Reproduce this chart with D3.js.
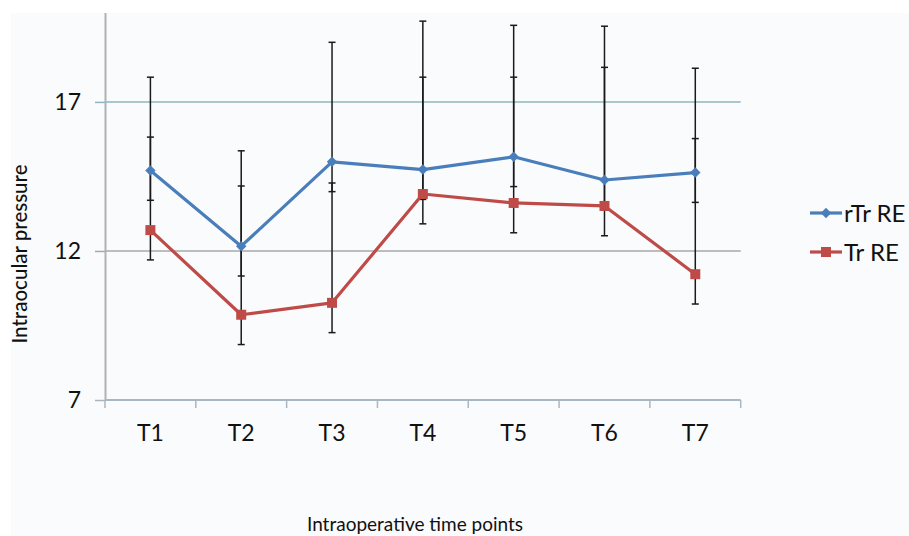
<!DOCTYPE html>
<html>
<head>
<meta charset="utf-8">
<script src="https://cdn.jsdelivr.net/npm/d3@7/dist/d3.min.js"></script>
<style>
  html, body { margin: 0; padding: 0; background: #ffffff; }
  svg { display: block; }
  text { font-family: Lato, "Open Sans", sans-serif; fill: #111; }
</style>
</head>
<body>
<svg id="chart" width="909" height="536"></svg>
<script>
// Time points on the x axis
const timePoints = ["T1", "T2", "T3", "T4", "T5", "T6", "T7"];

// Mean intraocular pressure per time point
const rTrValues = [14.70, 12.16, 14.99, 14.73, 15.16, 14.38, 14.63];
const trValues  = [12.70, 9.86, 10.26, 13.91, 13.61, 13.51, 11.22];

// Error bar extents above / below the mean
const rTrErrUp   = [3.13, 3.20, 4.01, 4.98, 4.41, 5.16, 3.50];
const rTrErrDown = [1.0, 1.0, 1.0, 1.0, 1.0, 1.0, 1.0];
const trErrUp    = [3.12, 4.32, 4.02, 3.92, 4.22, 4.65, 4.55];
const trErrDown  = [1.0, 1.0, 1.0, 1.0, 1.0, 1.0, 1.0];

// Y axis tick values
const yTicks = [7, 12, 17];

const seriesNames = ["rTr RE", "Tr RE"];
const seriesColors = ["#4a7ebb", "#be4b48"];

const series = [
  { name: seriesNames[0], color: seriesColors[0], values: rTrValues, up: rTrErrUp, down: rTrErrDown, marker: "diamond" },
  { name: seriesNames[1], color: seriesColors[1], values: trValues,  up: trErrUp,  down: trErrDown,  marker: "square" }
];

const svg = d3.select("#chart");

// chart area background
svg.append("rect")
  .attr("x", 11).attr("y", 13).attr("width", 898).attr("height", 523)
  .attr("fill", "#fafbfd");

const plot = { left: 105, right: 740.7, top: 12.5, bottom: 400 };

const x = d3.scaleBand().domain(timePoints).range([plot.left, plot.right]).padding(0);
const y = d3.scaleLinear().domain([7, 20]).range([plot.bottom, plot.top]);
const cx = d => x(d) + x.bandwidth() / 2;

// horizontal gridlines
const gridColors = { 12: "#a8a8a8", 17: "#93b3c2" };
svg.append("g")
  .selectAll("line")
  .data(yTicks.filter(t => t !== 7))
  .join("line")
  .attr("x1", plot.left).attr("x2", plot.right)
  .attr("y1", d => y(d)).attr("y2", d => y(d))
  .attr("stroke", d => gridColors[d])
  .attr("stroke-width", 1.5);

// y axis
const yAxis = svg.append("g")
  .attr("transform", `translate(${plot.left},0)`)
  .call(d3.axisLeft(y).tickValues(yTicks).tickSize(10).tickPadding(14).tickSizeOuter(0));
yAxis.select(".domain").attr("stroke", "#aeb3b8").attr("stroke-width", 2);
yAxis.selectAll(".tick line").attr("stroke", d => d === 7 ? "#aeb3b8" : gridColors[d]).attr("stroke-width", 1.5);
yAxis.selectAll(".tick text")
  .attr("font-size", 23)
  .attr("font-family", "Lato, sans-serif")
  .attr("fill", "#111");

// x axis: line plus ticks at category boundaries
const xAxis = svg.append("g");
xAxis.append("line")
  .attr("x1", plot.left).attr("x2", plot.right)
  .attr("y1", plot.bottom).attr("y2", plot.bottom)
  .attr("stroke", "#a9b7c3").attr("stroke-width", 2);
const boundaries = timePoints.map(d => x(d)).concat([x(timePoints[timePoints.length - 1]) + x.bandwidth()]);
xAxis.selectAll("line.tk")
  .data(boundaries)
  .join("line")
  .attr("class", "tk")
  .attr("x1", d => d).attr("x2", d => d)
  .attr("y1", plot.bottom).attr("y2", plot.bottom + 8)
  .attr("stroke", "#a9b7c3").attr("stroke-width", 1.5);
xAxis.selectAll("text")
  .data(timePoints)
  .join("text")
  .attr("x", d => cx(d))
  .attr("y", 441)
  .attr("text-anchor", "middle")
  .attr("font-size", 23)
  .text(d => d);

// error bars
const errG = svg.append("g");
series.forEach(s => {
  timePoints.forEach((t, i) => {
    const top = y(s.values[i] + s.up[i]);
    const bot = y(s.values[i] - s.down[i]);
    const px = cx(t);
    errG.append("line")
      .attr("x1", px).attr("x2", px).attr("y1", top).attr("y2", bot)
      .attr("stroke", "#1a1a1a").attr("stroke-width", 1.5);
    [top, bot].forEach(v => {
      errG.append("line")
        .attr("x1", px - 3.5).attr("x2", px + 3.5).attr("y1", v).attr("y2", v)
        .attr("stroke", "#1a1a1a").attr("stroke-width", 1.5);
    });
  });
});

// series lines and markers
const line = d3.line().x((d, i) => cx(timePoints[i])).y(d => y(d));
const diamond = d3.symbol().type(d3.symbolDiamond2).size(70);
const square = d3.symbol().type(d3.symbolSquare).size(100);

series.forEach(s => {
  svg.append("path")
    .datum(s.values)
    .attr("d", line)
    .attr("fill", "none")
    .attr("stroke", s.color)
    .attr("stroke-width", 3.2)
    .attr("stroke-linejoin", "round");
  svg.append("g")
    .selectAll("path")
    .data(s.values)
    .join("path")
    .attr("transform", (d, i) => `translate(${cx(timePoints[i])},${y(d)})`)
    .attr("d", s.marker === "diamond" ? diamond : square)
    .attr("fill", s.color);
});

// legend
const legend = svg.append("g");
series.forEach((s, i) => {
  const ly = 213 + i * 39;
  legend.append("line")
    .attr("x1", 810).attr("x2", 842).attr("y1", ly).attr("y2", ly)
    .attr("stroke", s.color).attr("stroke-width", 3.2);
  legend.append("path")
    .attr("transform", `translate(826,${ly})`)
    .attr("d", s.marker === "diamond" ? diamond : square)
    .attr("fill", s.color);
  legend.append("text")
    .attr("x", 844).attr("y", ly + 8.5)
    .attr("font-size", 24)
    .text(s.name);
});

// axis titles
svg.append("text")
  .attr("transform", "translate(27,254) rotate(-90)")
  .attr("text-anchor", "middle")
  .attr("font-size", 20.5)
  .attr("font-weight", 500)
  .text("Intraocular pressure");

svg.append("text")
  .attr("x", 415).attr("y", 531)
  .attr("text-anchor", "middle")
  .attr("font-size", 19)
  .text("Intraoperative time points");
</script>
</body>
</html>
